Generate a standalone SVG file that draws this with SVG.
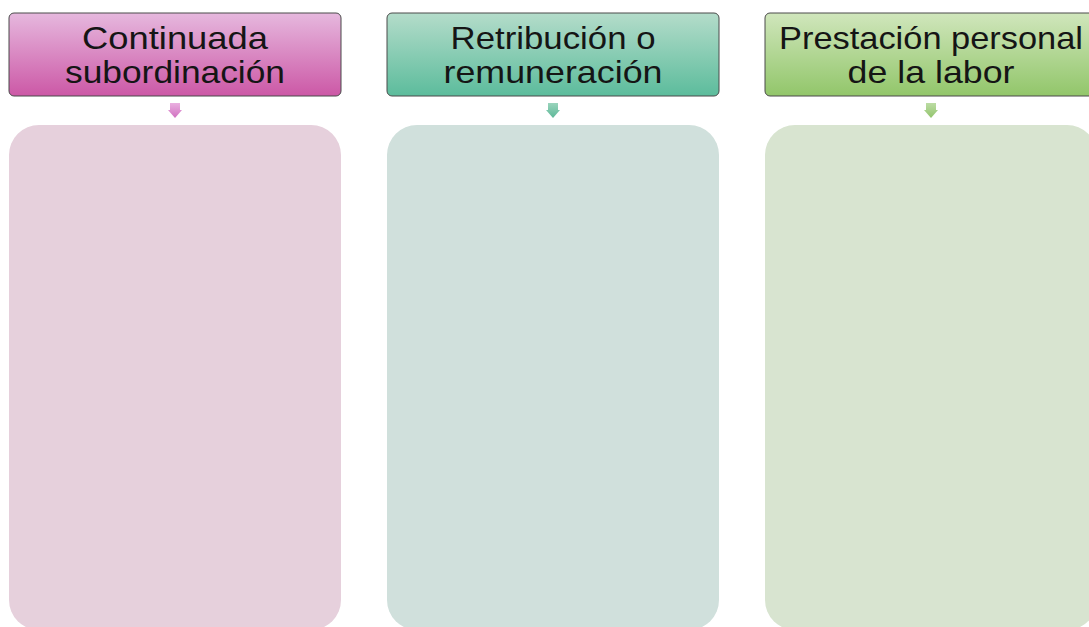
<svg xmlns="http://www.w3.org/2000/svg" width="1089" height="627" viewBox="0 0 1089 627">
<style>
.hdr{stroke:#4a4a4a;stroke-width:1}
.txt{font-family:"Liberation Sans",Arial,sans-serif;font-size:32px;fill:#151515;text-anchor:middle}
</style>
<defs>
<linearGradient id="gP" x1="0" y1="0" x2="0" y2="1"><stop offset="0" stop-color="#e6b8de"/><stop offset="1" stop-color="#cc58a6"/></linearGradient>
<linearGradient id="gT" x1="0" y1="0" x2="0" y2="1"><stop offset="0" stop-color="#b4dcca"/><stop offset="1" stop-color="#5cbc9c"/></linearGradient>
<linearGradient id="gG" x1="0" y1="0" x2="0" y2="1"><stop offset="0" stop-color="#d0e6bc"/><stop offset="1" stop-color="#92c66a"/></linearGradient>
<linearGradient id="aP" x1="0" y1="0" x2="0" y2="1"><stop offset="0" stop-color="#eab0e0"/><stop offset="1" stop-color="#d070c0"/></linearGradient>
<linearGradient id="aT" x1="0" y1="0" x2="0" y2="1"><stop offset="0" stop-color="#9ad4bc"/><stop offset="1" stop-color="#5cb898"/></linearGradient>
<linearGradient id="aG" x1="0" y1="0" x2="0" y2="1"><stop offset="0" stop-color="#bcdca4"/><stop offset="1" stop-color="#92c46c"/></linearGradient>
<path id="arr" d="M-5,0 H5 V7 H7 L0,15 L-7,7 H-5 Z"/>
</defs>
<rect width="1089" height="627" fill="#ffffff"/>
<g id="connectors">
<use href="#arr" x="175" y="103" fill="url(#aP)"/>
<use href="#arr" x="553" y="103" fill="url(#aT)"/>
<use href="#arr" x="931" y="103" fill="url(#aG)"/>
</g>
<g id="node-continuada">
<rect class="hdr" x="9" y="13" width="332" height="83" rx="5" fill="url(#gP)"/>
<text class="txt" x="175" y="49" textLength="186" lengthAdjust="spacingAndGlyphs">Continuada</text>
<text class="txt" x="175" y="83" textLength="220" lengthAdjust="spacingAndGlyphs">subordinación</text>
</g>
<g id="box-continuada">
<rect x="9" y="125" width="332" height="505" rx="30" fill="#e6d0dc"/>
</g>
<g id="node-retribucion">
<rect class="hdr" x="387" y="13" width="332" height="83" rx="5" fill="url(#gT)"/>
<text class="txt" x="553" y="49" textLength="205" lengthAdjust="spacingAndGlyphs">Retribución o</text>
<text class="txt" x="553" y="83" textLength="219" lengthAdjust="spacingAndGlyphs">remuneración</text>
</g>
<g id="box-retribucion">
<rect x="387" y="125" width="332" height="505" rx="30" fill="#d0e0dc"/>
</g>
<g id="node-prestacion">
<rect class="hdr" x="765" y="13" width="332" height="83" rx="5" fill="url(#gG)"/>
<text class="txt" x="931" y="49" textLength="304" lengthAdjust="spacingAndGlyphs">Prestación personal</text>
<text class="txt" x="931" y="83" textLength="167" lengthAdjust="spacingAndGlyphs">de la labor</text>
</g>
<g id="box-prestacion">
<rect x="765" y="125" width="332" height="505" rx="30" fill="#d8e4d0"/>
</g>
</svg>
